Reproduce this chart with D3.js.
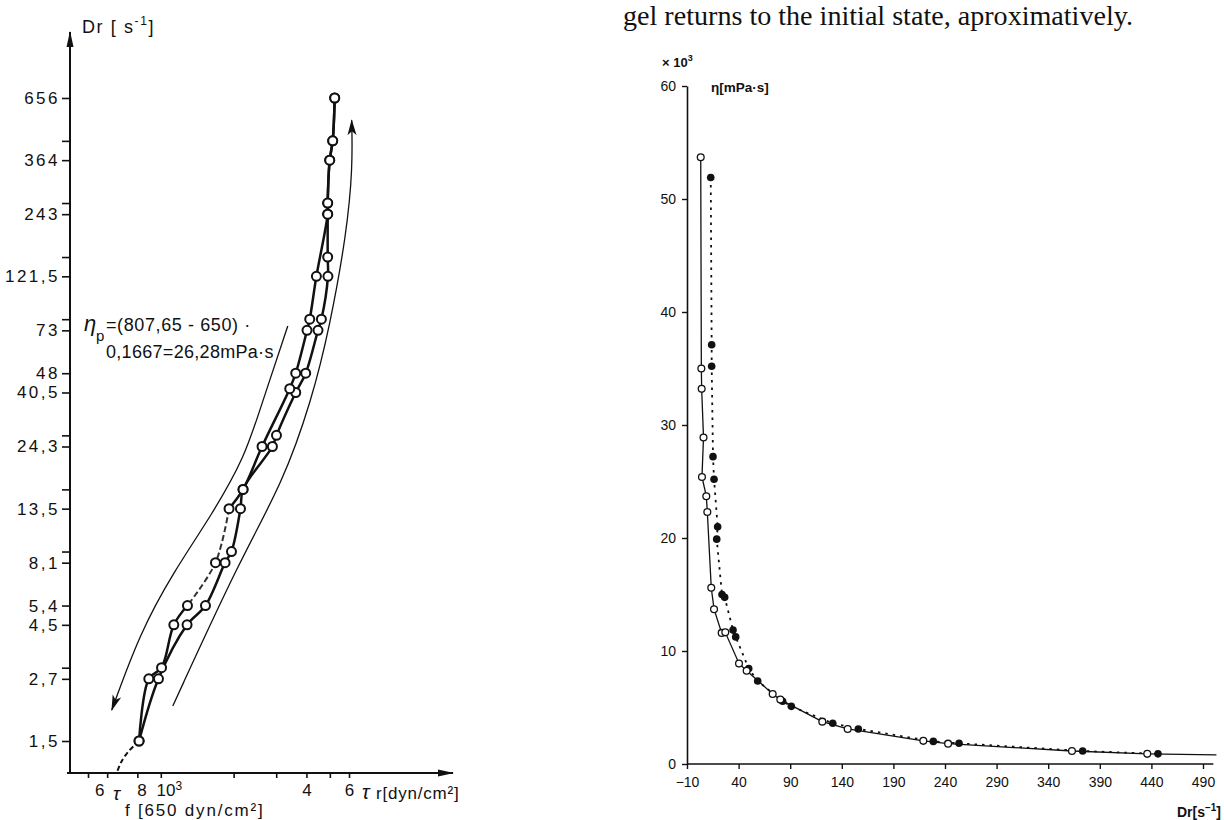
<!DOCTYPE html>
<html>
<head>
<meta charset="UTF-8">
<script src="https://d3js.org/d3.v7.min.js"></script>
<style>
  body { margin: 0; background: #fff; }
</style>
</head>
<body>
<script>
// ---- left chart: Dr vs shear stress (log-log, hand drawn) ----
var drTicks = [1.5, 2.7, 3, 4.5, 5.4, 8.1, 9, 13.5, 16.2, 24.3, 27, 40.5, 48.6, 72.9, 81, 121.5, 145.8, 218.7, 243, 364.5, 437.4, 656.1];
var drLabelVals = [1.5, 2.7, 4.5, 5.4, 8.1, 13.5, 24.3, 40.5, 48.6, 72.9, 121.5, 218.7, 364.5, 656.1];
var drLabelText = ["1,5", "2,7", "4,5", "5,4", "8,1", "13,5", "24,3", "40,5", "48", "73", "121,5", "243", "364", "656"];
var tauTicks = [500, 600, 800, 1000, 2000, 3000, 4000, 5000, 6000];
var tauLabelVals = [600, 800, 1000, 4000, 6000];
var tauLabelText = ["6", "8", "10", "4", "6"];

// rising curve (right branch)
var upDr  = [1.5, 2.7, 4.5, 5.4, 8.1, 9, 13.5, 16.2, 24.3, 27, 40.5, 48.6, 72.9, 81, 121.5, 145.8, 218.7, 243, 364.5, 437.4, 656.1];
var upTau = [813, 978, 1284, 1530, 1844, 1960, 2135, 2188, 2894, 3008, 3613, 3973, 4467, 4613, 4910, 4898, 4898, 4898, 4993, 5137, 5236];
// falling curve (left branch)
var downDr  = [656.1, 437.4, 364.5, 243, 218.7, 121.5, 81, 72.9, 48.6, 42, 24.3, 16.2, 13.5, 8.1, 5.4, 4.5, 3, 2.7, 1.5];
var downTau = [5236, 5137, 4993, 4898, 4898, 4399, 4128, 4023, 3613, 3413, 2622, 2188, 1915, 1683, 1289, 1132, 1007, 892, 813];
// dashed extension below 1,5
var tailTau = [813, 731, 683, 658];
var tailDr  = [1.5, 1.35, 1.22, 1.11];
// direction arrows
var arrowDownTau = [3350, 2565, 2223, 1640, 1121, 819, 627];
var arrowDownDr  = [75.9, 34.3, 22.0, 12.9, 7.35, 4.16, 2.01];
var arrowUpTau = [1121, 2121, 3192, 4207, 4993, 5870, 6216, 6155];
var arrowUpDr  = [2.09, 8.3, 17.2, 37.7, 75.2, 183, 341, 532];

// ---- right chart: viscosity vs Dr ----
var etaTicks = [0, 10, 20, 30, 40, 50, 60];
var drTicksR = [-10, 40, 90, 140, 190, 240, 290, 340, 390, 440, 490];
var openDr  = [3.3, 3.9, 4.2, 6.0, 4.5, 8.7, 9.7, 13.5, 16.2, 23.6, 27.1, 40.4, 47.8, 73.0, 80.4, 121.1, 145.7, 219, 243, 363, 436];
var openEta = [53.7, 35.0, 33.2, 28.9, 25.4, 23.7, 22.3, 15.6, 13.7, 11.6, 11.65, 8.9, 8.25, 6.2, 5.7, 3.75, 3.1, 2.05, 1.8, 1.15, 0.9];
var openTail = [503, 0.8];
var fullDr  = [13.0, 13.9, 13.9, 15.2, 16.2, 19.7, 18.8, 23.9, 26.5, 34.6, 37.2, 49.8, 58.5, 82.7, 91.1, 131.2, 156.0, 228.7, 253.6, 373.4, 446.4];
var fullEta = [51.9, 37.1, 35.2, 27.2, 25.2, 21.0, 19.9, 15.0, 14.75, 11.85, 11.25, 8.45, 7.35, 5.55, 5.1, 3.6, 3.1, 2.0, 1.83, 1.15, 0.9];

function zip(a, b) { return a.map(function(v, i) { return [v, b[i]]; }); }

var svg = d3.select("body").append("svg").attr("width", 1224).attr("height", 820);
svg.append("rect").attr("width", 1224).attr("height", 820).attr("fill", "#fff");

var defs = svg.append("defs");
defs.append("marker").attr("id", "axisArrow").attr("markerUnits", "userSpaceOnUse")
  .attr("viewBox", "0 -5 16 10").attr("refX", 15).attr("refY", 0)
  .attr("markerWidth", 16).attr("markerHeight", 10).attr("orient", "auto")
  .append("path").attr("d", "M0,-3.5L16,0L0,3.5Z").attr("fill", "#111");
defs.append("marker").attr("id", "thinArrow").attr("markerUnits", "userSpaceOnUse")
  .attr("viewBox", "0 -6 16 12").attr("refX", 15).attr("refY", 0)
  .attr("markerWidth", 16).attr("markerHeight", 12).attr("orient", "auto")
  .append("path").attr("d", "M0,-4.5L16,0L0,4.5L4,0Z").attr("fill", "#111");

// text line on top of the page
svg.append("text").attr("x", 623).attr("y", 25)
  .attr("font-family", "Liberation Serif").attr("font-size", 27).attr("fill", "#111")
  .attr("textLength", 510).attr("lengthAdjust", "spacingAndGlyphs")
  .text("gel returns to the initial state, aproximatively.");

// ===== left chart =====
var xL = d3.scaleLog().domain([500, 6000]).range([88, 349]);
var yL = d3.scaleLog().domain([1.5, 656.1]).range([741, 98]);
var L = svg.append("g").attr("font-family", "Liberation Sans").attr("fill", "#111");

// axes with arrows
L.append("line").attr("x1", 70).attr("y1", 774).attr("x2", 70).attr("y2", 32)
  .attr("stroke", "#111").attr("stroke-width", 2).attr("marker-end", "url(#axisArrow)");
L.append("line").attr("x1", 67).attr("y1", 773).attr("x2", 453).attr("y2", 773)
  .attr("stroke", "#111").attr("stroke-width", 2).attr("marker-end", "url(#axisArrow)");

var yAxisL = d3.axisLeft(yL).tickValues(drTicks).tickSize(8).tickPadding(2)
  .tickFormat(function(d) { var i = drLabelVals.indexOf(d); return i < 0 ? "" : drLabelText[i]; });
var gyL = L.append("g").attr("transform", "translate(70,0)").call(yAxisL);
gyL.select(".domain").remove();
gyL.selectAll("line").attr("stroke", "#111").attr("stroke-width", 1.6);
gyL.selectAll("text").attr("font-family", "Liberation Sans").attr("font-size", 17)
  .attr("letter-spacing", 2.5).attr("fill", "#111");

var xAxisL = d3.axisBottom(xL).tickValues(tauTicks).tickSize(5).tickPadding(6)
  .tickFormat(function(d) { var i = tauLabelVals.indexOf(d); return i < 0 ? "" : tauLabelText[i]; });
var gxL = L.append("g").attr("transform", "translate(0,773)").call(xAxisL);
gxL.select(".domain").remove();
gxL.selectAll("line").attr("stroke", "#111").attr("stroke-width", 1.6);
gxL.selectAll("text").attr("font-family", "Liberation Sans").attr("font-size", 17).attr("fill", "#111");
gxL.selectAll(".tick").filter(function(d) { return d === 600; }).select("text").attr("dx", -8);
gxL.selectAll(".tick").filter(function(d) { return d === 800; }).select("text").attr("dx", 4);
gxL.selectAll(".tick").filter(function(d) { return d === 1000; }).select("text").attr("dx", 8)
  .append("tspan").attr("font-size", 12).attr("dy", -6).text("3");

// axis titles
var dt = L.append("text").attr("x", 82).attr("y", 33).attr("font-size", 18).attr("letter-spacing", 1.6);
dt.append("tspan").text("Dr [ s");
dt.append("tspan").attr("font-size", 12).attr("dy", -8).text("-1");
dt.append("tspan").attr("dy", 8).text("]");
L.append("text").attr("x", 113).attr("y", 800).attr("font-size", 19).attr("font-style", "italic").text("τ");
L.append("text").attr("x", 125).attr("y", 816).attr("font-size", 17).attr("letter-spacing", 1.8).text("f [650 dyn/cm²]");
L.append("text").attr("x", 362).attr("y", 799).attr("font-size", 20).attr("font-style", "italic").text("τ");
L.append("text").attr("x", 376).attr("y", 799).attr("font-size", 17).attr("letter-spacing", 0.8).text("r[dyn/cm²]");

// annotation
L.append("text").attr("x", 84).attr("y", 331).attr("font-size", 22).attr("font-style", "italic").text("η");
L.append("text").attr("x", 96).attr("y", 341).attr("font-size", 15).text("p");
L.append("text").attr("x", 106).attr("y", 331).attr("font-size", 18).attr("letter-spacing", 0.6).text("=(807,65 - 650) ·");
L.append("text").attr("x", 106).attr("y", 358).attr("font-size", 18).attr("letter-spacing", 0.3).text("0,1667=26,28mPa·s");

// curves
var lineL = d3.line().x(function(d) { return xL(d[0]); }).y(function(d) { return yL(d[1]); })
  .curve(d3.curveCatmullRom);
var upPts = zip(upTau, upDr);
var downPts = zip(downTau, downDr);
L.append("path").attr("d", lineL(upPts)).attr("fill", "none").attr("stroke", "#111").attr("stroke-width", 2.5);
L.append("path").attr("d", lineL(downPts.filter(function(p) { return p[1] >= 13.5; })))
  .attr("fill", "none").attr("stroke", "#111").attr("stroke-width", 2.5);
L.append("path").attr("d", lineL(downPts.filter(function(p) { return p[1] <= 13.5 && p[1] >= 5.4; })))
  .attr("fill", "none").attr("stroke", "#333").attr("stroke-width", 2).attr("stroke-dasharray", "6,3");
L.append("path").attr("d", lineL(downPts.filter(function(p) { return p[1] <= 5.4; })))
  .attr("fill", "none").attr("stroke", "#111").attr("stroke-width", 2.5);
L.append("path").attr("d", lineL(zip(tailTau, tailDr)))
  .attr("fill", "none").attr("stroke", "#111").attr("stroke-width", 2).attr("stroke-dasharray", "5,3");

// arrows
var arrowLine = d3.line().x(function(d) { return xL(d[0]); }).y(function(d) { return yL(d[1]); })
  .curve(d3.curveBasis);
L.append("path").attr("d", arrowLine(zip(arrowDownTau, arrowDownDr)))
  .attr("fill", "none").attr("stroke", "#111").attr("stroke-width", 1.3).attr("marker-end", "url(#thinArrow)");
L.append("path").attr("d", arrowLine(zip(arrowUpTau, arrowUpDr)))
  .attr("fill", "none").attr("stroke", "#111").attr("stroke-width", 1.3).attr("marker-end", "url(#thinArrow)");

// circles
L.selectAll("circle.pt").data(upPts.concat(downPts)).enter().append("circle")
  .attr("class", "pt").attr("cx", function(d) { return xL(d[0]); }).attr("cy", function(d) { return yL(d[1]); })
  .attr("r", 4.5).attr("fill", "#fff").attr("stroke", "#111").attr("stroke-width", 2);

// ===== right chart =====
var xR = d3.scaleLinear().domain([-10, 490]).range([687, 1203]);
var yR = d3.scaleLinear().domain([0, 60]).range([764, 86]);
var R = svg.append("g").attr("font-family", "Liberation Sans").attr("fill", "#111");

var gyR = R.append("g").attr("transform", "translate(" + xR(-10) + ",0)")
  .call(d3.axisLeft(yR).tickValues(etaTicks).tickSize(5).tickSizeOuter(0).tickPadding(6));
gyR.select(".domain").attr("stroke", "#111").attr("stroke-width", 1.6);
gyR.selectAll("line").attr("stroke", "#111").attr("stroke-width", 1.4);
gyR.selectAll("text").attr("font-family", "Liberation Sans").attr("font-size", 14).attr("fill", "#111");

R.append("line").attr("x1", xR(-10)).attr("x2", xR(500)).attr("y1", yR(0)).attr("y2", yR(0))
  .attr("stroke", "#111").attr("stroke-width", 1.6);
var gxR = R.append("g").attr("transform", "translate(0," + yR(0) + ")")
  .call(d3.axisBottom(xR).tickValues(drTicksR).tickSize(5).tickPadding(8));
gxR.select(".domain").remove();
gxR.selectAll("line").attr("stroke", "#111").attr("stroke-width", 1.4);
gxR.selectAll("text").attr("font-family", "Liberation Sans").attr("font-size", 14).attr("fill", "#111");

// labels
var ex = R.append("text").attr("x", 662).attr("y", 67).attr("font-size", 13).attr("font-weight", "bold");
ex.append("tspan").text("× 10");
ex.append("tspan").attr("font-size", 9).attr("dy", -6).text("3");
R.append("text").attr("x", 711).attr("y", 92).attr("font-size", 13.5).attr("font-weight", "bold").text("η[mPa·s]");
var dl = R.append("text").attr("x", 1221).attr("y", 817).attr("text-anchor", "end")
  .attr("font-size", 14).attr("font-weight", "bold");
dl.append("tspan").text("Dr[s");
dl.append("tspan").attr("font-size", 10).attr("dy", -6).text("−1");
dl.append("tspan").attr("dy", 6).text("]");

// series
var lineR = d3.line().x(function(d) { return xR(d[0]); }).y(function(d) { return yR(d[1]); });
var openPts = zip(openDr, openEta);
var fullPts = zip(fullDr, fullEta);
R.append("path").attr("d", lineR(fullPts)).attr("fill", "none").attr("stroke", "#111")
  .attr("stroke-width", 1.8).attr("stroke-dasharray", "2.5,5");
R.append("path").attr("d", lineR(openPts.concat([openTail]))).attr("fill", "none")
  .attr("stroke", "#111").attr("stroke-width", 1.3);
R.selectAll("circle.full").data(fullPts).enter().append("circle").attr("class", "full")
  .attr("cx", function(d) { return xR(d[0]); }).attr("cy", function(d) { return yR(d[1]); })
  .attr("r", 3.8).attr("fill", "#111");
R.selectAll("circle.open").data(openPts).enter().append("circle").attr("class", "open")
  .attr("cx", function(d) { return xR(d[0]); }).attr("cy", function(d) { return yR(d[1]); })
  .attr("r", 3.4).attr("fill", "#fff").attr("stroke", "#111").attr("stroke-width", 1.3);
</script>
</body>
</html>
